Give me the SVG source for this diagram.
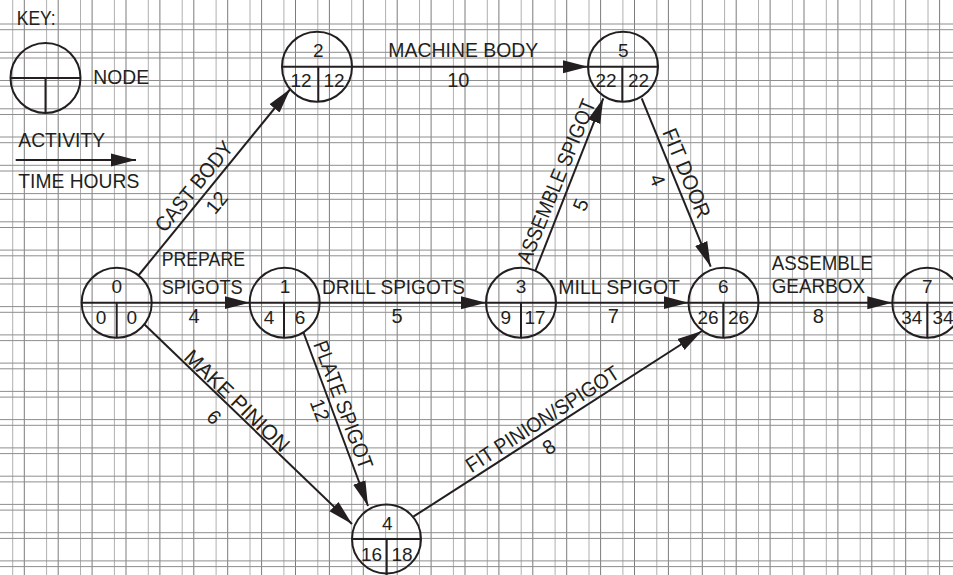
<svg xmlns="http://www.w3.org/2000/svg" width="953" height="575" viewBox="0 0 953 575">
<defs>
<style>
.gl{stroke:#b0b0b0;stroke-width:1}
.gd{stroke:#7c7c7c;stroke-width:1}
.gh{stroke:#8e8e8e;stroke-width:1}
.nd{fill:none;stroke:#231f20;stroke-width:2}
.cn{fill:none;stroke:#231f20;stroke-width:2;marker-end:url(#ah)}
.t{font-family:"Liberation Sans",Arial,sans-serif;font-size:21px;fill:#231f20}
.w{font-family:"Liberation Sans",Arial,sans-serif;font-size:20px;fill:#231f20;text-anchor:middle}
.n{font-family:"Liberation Sans",Arial,sans-serif;font-size:19px;fill:#231f20;text-anchor:middle}
.m{text-anchor:middle}
</style>
<marker id="ah" markerUnits="userSpaceOnUse" markerWidth="26" markerHeight="14" refX="25" refY="7" orient="auto" viewBox="0 0 26 14">
<path d="M0,0.5 L25,7 L0,13.5 Z" fill="#231f20"/>
</marker>
</defs>
<rect width="953" height="575" fill="#fff"/>
<g id="grid">
<g class="gl">
<line x1="12.7" y1="0" x2="12.7" y2="575"/><line x1="46.6" y1="0" x2="46.6" y2="575"/><line x1="80.5" y1="0" x2="80.5" y2="575"/><line x1="114.4" y1="0" x2="114.4" y2="575"/><line x1="148.3" y1="0" x2="148.3" y2="575"/><line x1="182.2" y1="0" x2="182.2" y2="575"/><line x1="216.1" y1="0" x2="216.1" y2="575"/><line x1="250" y1="0" x2="250" y2="575"/><line x1="283.9" y1="0" x2="283.9" y2="575"/><line x1="317.8" y1="0" x2="317.8" y2="575"/><line x1="351.7" y1="0" x2="351.7" y2="575"/><line x1="385.6" y1="0" x2="385.6" y2="575"/><line x1="419.5" y1="0" x2="419.5" y2="575"/><line x1="453.4" y1="0" x2="453.4" y2="575"/><line x1="487.3" y1="0" x2="487.3" y2="575"/><line x1="521.2" y1="0" x2="521.2" y2="575"/><line x1="555.1" y1="0" x2="555.1" y2="575"/><line x1="589" y1="0" x2="589" y2="575"/><line x1="622.9" y1="0" x2="622.9" y2="575"/><line x1="656.8" y1="0" x2="656.8" y2="575"/><line x1="690.7" y1="0" x2="690.7" y2="575"/><line x1="724.6" y1="0" x2="724.6" y2="575"/><line x1="758.5" y1="0" x2="758.5" y2="575"/><line x1="792.4" y1="0" x2="792.4" y2="575"/><line x1="826.3" y1="0" x2="826.3" y2="575"/><line x1="860.2" y1="0" x2="860.2" y2="575"/><line x1="894.1" y1="0" x2="894.1" y2="575"/><line x1="928" y1="0" x2="928" y2="575"/>
</g>
<g class="gd">
<line x1="24.3" y1="0" x2="24.3" y2="575"/><line x1="58.2" y1="0" x2="58.2" y2="575"/><line x1="92.1" y1="0" x2="92.1" y2="575"/><line x1="126" y1="0" x2="126" y2="575"/><line x1="159.9" y1="0" x2="159.9" y2="575"/><line x1="193.8" y1="0" x2="193.8" y2="575"/><line x1="227.7" y1="0" x2="227.7" y2="575"/><line x1="261.6" y1="0" x2="261.6" y2="575"/><line x1="295.5" y1="0" x2="295.5" y2="575"/><line x1="329.4" y1="0" x2="329.4" y2="575"/><line x1="363.3" y1="0" x2="363.3" y2="575"/><line x1="397.2" y1="0" x2="397.2" y2="575"/><line x1="431.1" y1="0" x2="431.1" y2="575"/><line x1="465" y1="0" x2="465" y2="575"/><line x1="498.9" y1="0" x2="498.9" y2="575"/><line x1="532.8" y1="0" x2="532.8" y2="575"/><line x1="566.7" y1="0" x2="566.7" y2="575"/><line x1="600.6" y1="0" x2="600.6" y2="575"/><line x1="634.5" y1="0" x2="634.5" y2="575"/><line x1="668.4" y1="0" x2="668.4" y2="575"/><line x1="702.3" y1="0" x2="702.3" y2="575"/><line x1="736.2" y1="0" x2="736.2" y2="575"/><line x1="770.1" y1="0" x2="770.1" y2="575"/><line x1="804" y1="0" x2="804" y2="575"/><line x1="837.9" y1="0" x2="837.9" y2="575"/><line x1="871.8" y1="0" x2="871.8" y2="575"/><line x1="905.7" y1="0" x2="905.7" y2="575"/><line x1="939.6" y1="0" x2="939.6" y2="575"/>
</g>
<g class="gh">
<line x1="0" y1="24" x2="953" y2="24"/><line x1="0" y1="29.7" x2="953" y2="29.7"/>
<line x1="0" y1="52.3" x2="953" y2="52.3"/><line x1="0" y1="58" x2="953" y2="58"/>
<line x1="0" y1="80.5" x2="953" y2="80.5"/><line x1="0" y1="86.2" x2="953" y2="86.2"/>
<line x1="0" y1="108.8" x2="953" y2="108.8"/><line x1="0" y1="114.5" x2="953" y2="114.5"/>
<line x1="0" y1="137" x2="953" y2="137"/><line x1="0" y1="142.7" x2="953" y2="142.7"/>
<line x1="0" y1="165.3" x2="953" y2="165.3"/><line x1="0" y1="171" x2="953" y2="171"/>
<line x1="0" y1="193.6" x2="953" y2="193.6"/><line x1="0" y1="199.3" x2="953" y2="199.3"/>
<line x1="0" y1="221.8" x2="953" y2="221.8"/><line x1="0" y1="227.5" x2="953" y2="227.5"/>
<line x1="0" y1="250.1" x2="953" y2="250.1"/><line x1="0" y1="255.8" x2="953" y2="255.8"/>
<line x1="0" y1="278.3" x2="953" y2="278.3"/><line x1="0" y1="284" x2="953" y2="284"/>
<line x1="0" y1="306.6" x2="953" y2="306.6"/><line x1="0" y1="312.3" x2="953" y2="312.3"/>
<line x1="0" y1="334.9" x2="953" y2="334.9"/><line x1="0" y1="340.6" x2="953" y2="340.6"/>
<line x1="0" y1="363.1" x2="953" y2="363.1"/><line x1="0" y1="368.8" x2="953" y2="368.8"/>
<line x1="0" y1="391.4" x2="953" y2="391.4"/><line x1="0" y1="397.1" x2="953" y2="397.1"/>
<line x1="0" y1="419.6" x2="953" y2="419.6"/><line x1="0" y1="425.3" x2="953" y2="425.3"/>
<line x1="0" y1="447.9" x2="953" y2="447.9"/><line x1="0" y1="453.6" x2="953" y2="453.6"/>
<line x1="0" y1="476.2" x2="953" y2="476.2"/><line x1="0" y1="481.9" x2="953" y2="481.9"/>
<line x1="0" y1="504.4" x2="953" y2="504.4"/><line x1="0" y1="510.1" x2="953" y2="510.1"/>
<line x1="0" y1="532.7" x2="953" y2="532.7"/><line x1="0" y1="538.4" x2="953" y2="538.4"/>
<line x1="0" y1="560.9" x2="953" y2="560.9"/><line x1="0" y1="566.6" x2="953" y2="566.6"/>
</g>
</g>
<g id="key">
<text class="t" x="16.7" y="25" textLength="39" lengthAdjust="spacingAndGlyphs">KEY:</text>
<circle class="nd" cx="45.5" cy="78" r="35"/>
<line class="nd" x1="10.5" y1="78" x2="80.5" y2="78"/>
<line class="nd" x1="45.5" y1="78" x2="45.5" y2="113"/>
<text class="t" x="93.3" y="84" textLength="55.7" lengthAdjust="spacingAndGlyphs">NODE</text>
<text class="t" x="18.3" y="146.7" textLength="86.7" lengthAdjust="spacingAndGlyphs">ACTIVITY</text>
<line class="cn" x1="15.7" y1="160" x2="136" y2="160"/>
<text class="t" x="18.3" y="188.3" textLength="121" lengthAdjust="spacingAndGlyphs">TIME HOURS</text>
</g>
<g id="connectors">
<line class="cn" x1="352" y1="66.7" x2="588" y2="66.7"/>
<line class="cn" x1="151.7" y1="302.7" x2="249.7" y2="302.7"/>
<line class="cn" x1="319.7" y1="302.7" x2="486" y2="302.7"/>
<line class="cn" x1="556" y1="302.7" x2="688.5" y2="302.7"/>
<line class="cn" x1="758.5" y1="302.7" x2="892.3" y2="302.7"/>
<line class="cn" x1="138.4" y1="275.5" x2="290.3" y2="89"/>
<line class="cn" x1="144" y1="324" x2="352" y2="524"/>
<line class="cn" x1="303.5" y1="332.5" x2="368" y2="506"/>
<line class="cn" x1="535.5" y1="270.5" x2="603.3" y2="98.3"/>
<line class="cn" x1="641.7" y1="98.3" x2="710.7" y2="266.7"/>
<line class="cn" x1="413.3" y1="516.7" x2="702" y2="331"/>
<text class="t" x="388.3" y="56.7" textLength="150" lengthAdjust="spacingAndGlyphs">MACHINE BODY</text>
<text class="w" x="458.3" y="86.7">10</text>
<text class="t" x="161.7" y="266" textLength="83.3" lengthAdjust="spacingAndGlyphs">PREPARE</text>
<text class="t" x="161.7" y="294" textLength="81" lengthAdjust="spacingAndGlyphs">SPIGOTS</text>
<text class="w" x="194" y="323.3">4</text>
<text class="t" x="322" y="294" textLength="143" lengthAdjust="spacingAndGlyphs">DRILL SPIGOTS</text>
<text class="w" x="397" y="323.3">5</text>
<text class="t" x="558.3" y="294" textLength="121.7" lengthAdjust="spacingAndGlyphs">MILL SPIGOT</text>
<text class="w" x="613.3" y="323.3">7</text>
<text class="t" x="771.7" y="270" textLength="101" lengthAdjust="spacingAndGlyphs">ASSEMBLE</text>
<text class="t" x="771.7" y="293.3" textLength="93.3" lengthAdjust="spacingAndGlyphs">GEARBOX</text>
<text class="w" x="818.3" y="323.3">8</text>
<text class="t m" transform="translate(199.5,191) rotate(-50.8)" textLength="110" lengthAdjust="spacingAndGlyphs">CAST BODY</text>
<text class="w" transform="translate(222,207) rotate(-50.8)">12</text>
<text class="t m" transform="translate(562.8,184.1) rotate(-67.7)" textLength="175" lengthAdjust="spacingAndGlyphs">ASSEMBLE SPIGOT</text>
<text class="w" transform="translate(587.2,207.4) rotate(-67.7)">5</text>
<text class="t m" transform="translate(680,176) rotate(67.7)" textLength="95" lengthAdjust="spacingAndGlyphs">FIT DOOR</text>
<text class="w" transform="translate(651,182.7) rotate(67.7)">4</text>
<text class="t m" transform="translate(232,406) rotate(43.9)" textLength="137" lengthAdjust="spacingAndGlyphs">MAKE PINION</text>
<text class="w" transform="translate(209.3,422.2) rotate(43.9)">6</text>
<text class="t m" transform="translate(336.6,407.2) rotate(69.6)" textLength="135" lengthAdjust="spacingAndGlyphs">PLATE SPIGOT</text>
<text class="w" transform="translate(313.5,412.4) rotate(69.6)">12</text>
<text class="t m" transform="translate(546.4,425.1) rotate(-32.75)" textLength="178" lengthAdjust="spacingAndGlyphs">FIT PINION/SPIGOT</text>
<text class="w" transform="translate(552.6,452.7) rotate(-32.75)">8</text>
</g>
<g id="node0">
<circle class="nd" cx="116.7" cy="302.7" r="35"/>
<line class="nd" x1="81.7" y1="302.7" x2="151.7" y2="302.7"/>
<line class="nd" x1="116.7" y1="302.7" x2="116.7" y2="337.7"/>
<text class="n" x="116.7" y="293.3">0</text>
<text class="n" x="101" y="323.8">0</text>
<text class="n" x="131.7" y="323.8">0</text>
</g>
<g id="node1">
<circle class="nd" cx="284.7" cy="302.7" r="35"/>
<line class="nd" x1="249.7" y1="302.7" x2="319.7" y2="302.7"/>
<line class="nd" x1="284" y1="302.7" x2="284" y2="337.7"/>
<text class="n" x="285" y="293.3">1</text>
<text class="n" x="269" y="323.8">4</text>
<text class="n" x="300" y="323.8">6</text>
</g>
<g id="node2">
<circle class="nd" cx="317" cy="66.7" r="35"/>
<line class="nd" x1="282" y1="66.7" x2="352" y2="66.7"/>
<line class="nd" x1="318.3" y1="66.7" x2="318.3" y2="101.7"/>
<text class="n" x="318.3" y="56.7">2</text>
<text class="n" x="301" y="86.5">12</text>
<text class="n" x="334" y="86.5">12</text>
</g>
<g id="node3">
<circle class="nd" cx="521" cy="302.7" r="35"/>
<line class="nd" x1="486" y1="302.7" x2="556" y2="302.7"/>
<line class="nd" x1="521" y1="302.7" x2="521" y2="337.7"/>
<text class="n" x="521" y="293.3">3</text>
<text class="n" x="505.7" y="323.8">9</text>
<text class="n" x="535" y="323.8">17</text>
</g>
<g id="node4">
<circle class="nd" cx="386.5" cy="539" r="34.5"/>
<line class="nd" x1="352" y1="539" x2="421" y2="539"/>
<line class="nd" x1="386.7" y1="539" x2="386.7" y2="575"/>
<text class="n" x="387.3" y="530">4</text>
<text class="n" x="371.5" y="560.5">16</text>
<text class="n" x="402" y="560.5">18</text>
</g>
<g id="node5">
<circle class="nd" cx="623" cy="66.7" r="35"/>
<line class="nd" x1="588" y1="66.7" x2="658" y2="66.7"/>
<line class="nd" x1="622.3" y1="66.7" x2="622.3" y2="101.7"/>
<text class="n" x="623.3" y="56.7">5</text>
<text class="n" x="606" y="86.5">22</text>
<text class="n" x="638.5" y="86.5">22</text>
</g>
<g id="node6">
<circle class="nd" cx="723.5" cy="302.7" r="35"/>
<line class="nd" x1="688.5" y1="302.7" x2="758.5" y2="302.7"/>
<line class="nd" x1="723.3" y1="302.7" x2="723.3" y2="337.7"/>
<text class="n" x="723.3" y="293.3">6</text>
<text class="n" x="708" y="323.8">26</text>
<text class="n" x="738.5" y="323.8">26</text>
</g>
<g id="node7">
<circle class="nd" cx="927.3" cy="302.7" r="35"/>
<line class="nd" x1="892.3" y1="302.7" x2="962.3" y2="302.7"/>
<line class="nd" x1="927.3" y1="302.7" x2="927.3" y2="337.7"/>
<text class="n" x="927.3" y="293.3">7</text>
<text class="n" x="911.7" y="323.8">34</text>
<text class="n" x="943" y="323.8">34</text>
</g>
</svg>
